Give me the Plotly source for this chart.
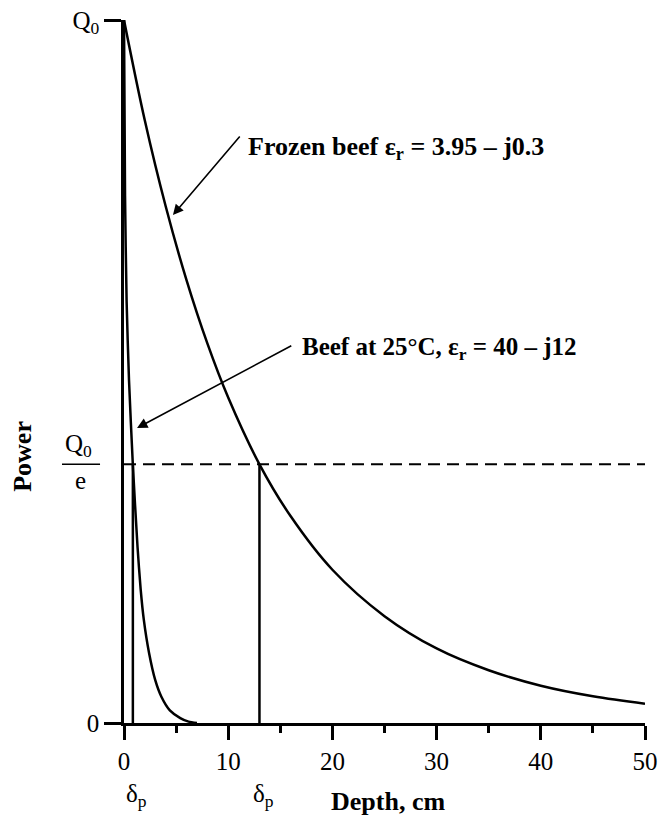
import plotly.graph_objects as go

# ---- data ----
depth_frozen = [0, 2, 4, 6, 8, 10, 13, 16, 20, 25, 30, 35, 40, 45, 50]
power_frozen = [1.0, 0.857, 0.735, 0.630, 0.540, 0.463, 0.368, 0.294, 0.218, 0.152,
                0.106, 0.075, 0.053, 0.038, 0.0275]

depth_beef25 = [0, 0.1, 0.25, 0.48, 0.85, 1.3, 1.6, 1.9, 2.4, 3.0, 3.6, 4.4, 5.4, 6.2, 7.0]
power_beef25 = [1.0, 0.75, 0.6, 0.488, 0.367, 0.25, 0.19, 0.147, 0.10, 0.061, 0.037,
                0.018, 0.007, 0.002, 0.0]

delta_p = [0.85, 13.0]          # penetration depths, cm
q_over_e = 0.368                # Q0/e level
x_range = [0, 50]
x_major = [0, 10, 20, 30, 40, 50]
x_minor = [5, 15, 25, 35, 45]
y_tickvals = [0, 1]
y_ticktext = ["0", "Q<sub>0</sub>"]

FONT = "'Liberation Serif', 'Times New Roman', serif"
BLACK = "black"
TICK_SIZE = 25
LABEL_SIZE = 26

fig = go.Figure()

fig.add_trace(go.Scatter(x=depth_frozen, y=power_frozen, mode="lines",
                         line=dict(color=BLACK, width=2.5, shape="spline", smoothing=1.0),
                         cliponaxis=False, showlegend=False, hoverinfo="skip"))
fig.add_trace(go.Scatter(x=depth_beef25, y=power_beef25, mode="lines",
                         line=dict(color=BLACK, width=2.5, shape="spline", smoothing=0.6),
                         cliponaxis=False, showlegend=False, hoverinfo="skip"))

# dashed Q0/e line
fig.add_trace(go.Scatter(x=x_range, y=[q_over_e, q_over_e], mode="lines",
                         line=dict(color=BLACK, width=2, dash="12px,7px"),
                         cliponaxis=False, showlegend=False, hoverinfo="skip"))

# vertical lines at penetration depths
for d in delta_p:
    fig.add_trace(go.Scatter(x=[d, d], y=[0, q_over_e], mode="lines",
                             line=dict(color=BLACK, width=2.5),
                             cliponaxis=False, showlegend=False, hoverinfo="skip"))

annotations = []
# arrows
annotations.append(dict(x=4.7, y=0.7226, ax=11.23, ay=0.8364, xref="x", yref="y",
                        axref="x", ayref="y", text="", showarrow=True,
                        arrowhead=2, arrowsize=1.3, arrowwidth=1.6, arrowcolor=BLACK))
annotations.append(dict(x=1.25, y=0.4196, ax=16.2, ay=0.5377, xref="x", yref="y",
                        axref="x", ayref="y", text="", showarrow=True,
                        arrowhead=2, arrowsize=1.3, arrowwidth=1.6, arrowcolor=BLACK))
# labels
annotations.append(dict(x=11.75, y=0.818, xref="x", yref="y", xanchor="left", yanchor="middle",
                        text="<b>Frozen beef ε<sub>r</sub> = 3.95 – j0.3</b>", showarrow=False,
                        font=dict(family=FONT, size=LABEL_SIZE, color=BLACK)))
annotations.append(dict(x=16.85, y=0.533, xref="x", yref="y", xanchor="left", yanchor="middle",
                        text="<b>Beef at 25°C, ε<sub>r</sub> = 40 – j12</b>", showarrow=False,
                        font=dict(family=FONT, size=25, color=BLACK)))
# delta_p labels under x axis
for d in delta_p:
    annotations.append(dict(x=d, y=-0.103, xref="x", yref="paper", xanchor="center",
                            yanchor="middle", xshift=4, text="δ<sub>p</sub>", showarrow=False,
                            font=dict(family=FONT, size=TICK_SIZE, color=BLACK)))
# axis titles
annotations.append(dict(x=0.507, y=-0.112, xref="paper", yref="paper", xanchor="center",
                        yanchor="middle", text="<b>Depth, cm</b>", showarrow=False,
                        font=dict(family=FONT, size=LABEL_SIZE, color=BLACK)))
annotations.append(dict(x=-0.194, y=0.38, xref="paper", yref="paper", xanchor="center",
                        yanchor="middle", text="<b>Power</b>", textangle=-90, showarrow=False,
                        font=dict(family=FONT, size=LABEL_SIZE, color=BLACK)))
# Q0 / e fraction label
annotations.append(dict(x=-0.088, y=q_over_e, xref="paper", yref="y", xanchor="center",
                        yanchor="bottom", yshift=1, text="Q<sub>0</sub>", showarrow=False,
                        font=dict(family=FONT, size=TICK_SIZE, color=BLACK)))
annotations.append(dict(x=-0.084, y=q_over_e, xref="paper", yref="y", xanchor="center",
                        yanchor="top", yshift=-1, text="e", showarrow=False,
                        font=dict(family=FONT, size=TICK_SIZE, color=BLACK)))

shapes = [dict(type="line", xref="paper", yref="y", x0=-0.119, x1=-0.046,
               y0=q_over_e, y1=q_over_e, line=dict(color=BLACK, width=1.5))]

fig.update_layout(
    width=664, height=816,
    margin=dict(l=124, r=19, t=20, b=93, autoexpand=False),
    paper_bgcolor="white", plot_bgcolor="white",
    font=dict(family=FONT, size=TICK_SIZE, color=BLACK),
    annotations=annotations, shapes=shapes,
    showlegend=False,
)
fig.update_xaxes(range=x_range, tickvals=x_major, ticks="outside", ticklen=14, tickwidth=2.5,
                 tickcolor=BLACK, showline=True, linewidth=2.5, linecolor=BLACK,
                 showgrid=False, zeroline=False, automargin=False,
                 minor=dict(tickvals=x_minor, ticks="outside", ticklen=7, tickwidth=2.5,
                            tickcolor=BLACK, showgrid=False),
                 tickfont=dict(family=FONT, size=TICK_SIZE, color=BLACK))
fig.update_yaxes(range=[0, 1], tickvals=y_tickvals, ticktext=y_ticktext, ticks="outside",
                 ticklen=17, tickwidth=2.5, tickcolor=BLACK, showline=True, linewidth=2.5,
                 linecolor=BLACK, showgrid=False, zeroline=False, automargin=False,
                 tickfont=dict(family=FONT, size=TICK_SIZE, color=BLACK))

fig.write_html("out.html")
